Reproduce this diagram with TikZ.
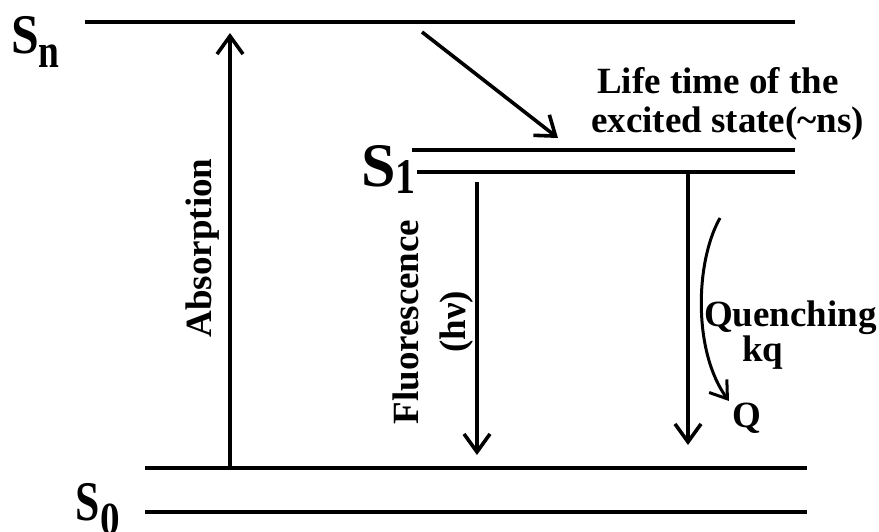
\documentclass[tikz,border=0pt]{standalone}
\usepackage{fontspec}
\usepackage{graphicx}
\setmainfont{Liberation Serif}
\usetikzlibrary{arrows.meta}
\begin{document}
\begin{tikzpicture}[x=1pt,y=-1pt,
  lvl/.style={line width=4pt},
  arr/.style={line width=3.6pt,-{Straight Barb[length=18pt,width=26pt,line width=3.6pt]}},
  carr/.style={line width=3pt,-{Straight Barb[length=16pt,width=22pt,line width=3pt]}},
  lbl/.style={font=\bfseries\fontsize{37}{47}\selectfont, inner sep=0pt},
  slbl/.style={font=\bfseries, inner sep=0pt, anchor=base west}]
\useasboundingbox (0,0) rectangle (879,531);
% energy levels
\coordinate (snL) at (85,22);   \coordinate (snR) at (795,22);
\coordinate (s1aL) at (412,150); \coordinate (s1aR) at (795,150);
\coordinate (s1bL) at (417,172); \coordinate (s1bR) at (795,172);
\coordinate (s0aL) at (145,468); \coordinate (s0aR) at (807,468);
\coordinate (s0bL) at (145,512); \coordinate (s0bR) at (807,512);
\draw[lvl] (snL) -- (snR);
\draw[lvl] (s1aL) -- (s1aR);
\draw[lvl] (s1bL) -- (s1bR);
\draw[lvl] (s0aL) -- (s0aR);
\draw[lvl] (s0bL) -- (s0bR);
% state labels
\node[slbl] (sn) at (11,53) {\scalebox{0.89}[1]{\fontsize{56}{56}\selectfont S}\raisebox{-14pt}{\scalebox{0.78}[1]{\fontsize{48}{48}\selectfont n}}};
\node[slbl] (s1) at (361,186) {\fontsize{62}{62}\selectfont S\raisebox{-7pt}{\scalebox{0.8}[1]{\fontsize{50}{50}\selectfont 1}}};
\node[slbl] (s0) at (75,520) {\scalebox{0.78}[1]{\fontsize{56}{56}\selectfont S}\hspace{1pt}\raisebox{-14pt}{\scalebox{0.85}[1]{\fontsize{46}{46}\selectfont 0}}};
% arrows
\coordinate (absB) at (230,466); \coordinate (absT) at (230,33);
\draw[arr] (absB) -- (absT);
\coordinate (dA) at (422,32); \coordinate (dB) at (558,138);
\draw[arr] (dA) -- (dB);
\coordinate (fT) at (477,182); \coordinate (fB) at (477,455);
\draw[arr] (fT) -- (fB);
\coordinate (qT) at (688,172); \coordinate (qB) at (688,445);
\draw[arr] (qT) -- (qB);
\coordinate (cA) at (720,218); \coordinate (cB) at (729,401);
\draw[carr] (cA) .. controls (695,262) and (693,352) .. (cB);
% labels
\node[lbl, rotate=90] (abs) at (203,248) {Absorption};
\node[lbl, rotate=90, align=center] (fl) at (433,322) {Fluorescence\\(hν)};
\node[lbl, anchor=base west] (lt1) at (597,93) {Life time of the};
\node[lbl, anchor=base west] (lt2) at (591,132) {excited state(\textasciitilde ns)};
\node[lbl, anchor=base west] (qn) at (704,326) {Quenching};
\node[lbl, anchor=base west] (kq) at (742,361) {kq};
\node[lbl, anchor=base west] (q) at (732,427) {Q};
\end{tikzpicture}
\end{document}
